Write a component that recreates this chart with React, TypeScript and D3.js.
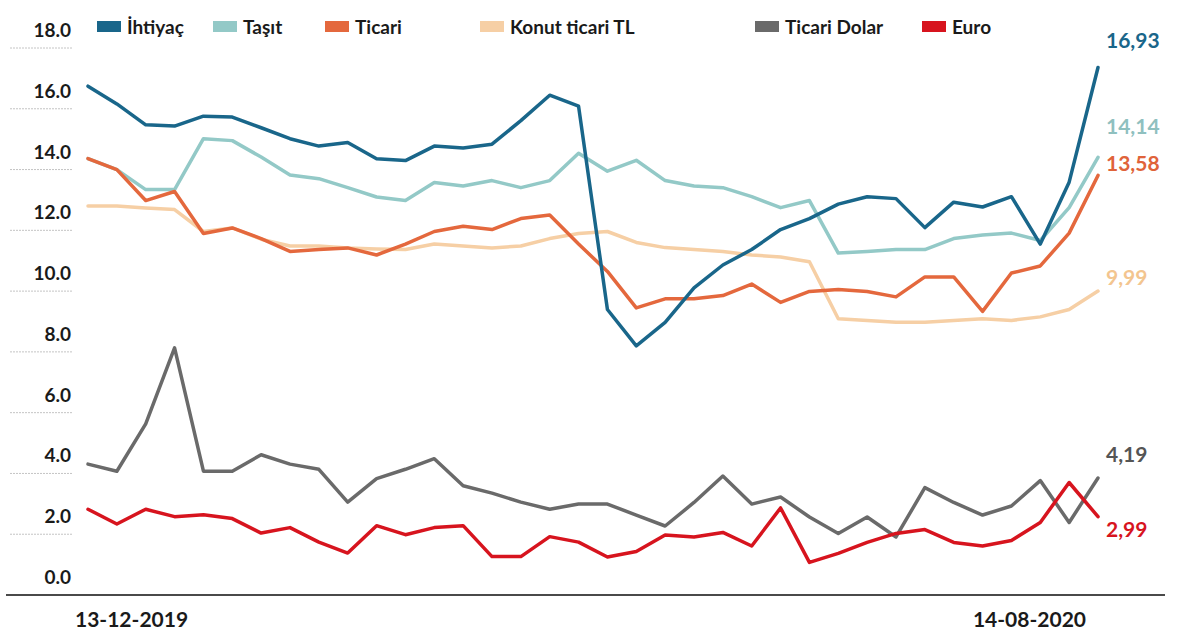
import React from "react";
import * as d3 from "d3";

const dates = [
  "13-12-2019", "20-12-2019", "27-12-2019", "03-01-2020", "10-01-2020", "17-01-2020",
  "24-01-2020", "31-01-2020", "07-02-2020", "14-02-2020", "21-02-2020", "28-02-2020",
  "06-03-2020", "13-03-2020", "20-03-2020", "27-03-2020", "03-04-2020", "10-04-2020",
  "17-04-2020", "24-04-2020", "01-05-2020", "08-05-2020", "15-05-2020", "22-05-2020",
  "29-05-2020", "05-06-2020", "12-06-2020", "19-06-2020", "26-06-2020", "03-07-2020",
  "10-07-2020", "17-07-2020", "24-07-2020", "31-07-2020", "07-08-2020", "14-08-2020",
];

const ihtiyac = [16.35, 15.8, 15.15, 15.11, 15.42, 15.39, 15.06, 14.72, 14.49, 14.6, 14.1, 14.04,
  14.49, 14.43, 14.55, 15.28, 16.07, 15.73, 9.42, 8.29, 9.02, 10.09, 10.8, 11.28,
  11.9, 12.24, 12.69, 12.92, 12.86, 11.96, 12.75, 12.6, 12.92, 11.45, 13.37, 16.93];
const tasit = [14.1, 13.76, 13.14, 13.14, 14.72, 14.66, 14.15, 13.59, 13.48, 13.2, 12.91, 12.8,
  13.36, 13.25, 13.42, 13.2, 13.42, 14.27, 13.71, 14.05, 13.42, 13.25, 13.2, 12.92,
  12.58, 12.8, 11.17, 11.22, 11.28, 11.28, 11.62, 11.73, 11.79, 11.56, 12.58, 14.14];
const ticari = [14.1, 13.76, 12.8, 13.08, 11.78, 11.95, 11.62, 11.22, 11.28, 11.33, 11.11, 11.45,
  11.84, 12.0, 11.9, 12.24, 12.35, 11.45, 10.6, 9.47, 9.75, 9.75, 9.85, 10.21,
  9.64, 9.98, 10.04, 9.98, 9.81, 10.43, 10.43, 9.36, 10.55, 10.77, 11.79, 13.58];
const konut = [12.63, 12.63, 12.57, 12.52, 11.84, 11.95, 11.6, 11.39, 11.39, 11.33, 11.3, 11.28,
  11.45, 11.39, 11.33, 11.39, 11.62, 11.78, 11.84, 11.5, 11.34, 11.28, 11.22, 11.11,
  11.05, 10.9, 9.13, 9.08, 9.02, 9.02, 9.08, 9.13, 9.08, 9.19, 9.42, 9.99];
const ticariDolar = [4.62, 4.4, 5.87, 8.23, 4.4, 4.4, 4.91, 4.62, 4.46, 3.44, 4.17, 4.46,
  4.79, 3.95, 3.72, 3.44, 3.22, 3.38, 3.38, 3.04, 2.7, 3.43, 4.25, 3.38,
  3.6, 2.98, 2.47, 2.98, 2.36, 3.89, 3.43, 3.04, 3.32, 4.11, 2.81, 4.19];
const euro = [3.22, 2.76, 3.22, 2.99, 3.05, 2.93, 2.48, 2.65, 2.2, 1.86, 2.71, 2.43,
  2.65, 2.71, 1.75, 1.75, 2.37, 2.2, 1.74, 1.91, 2.42, 2.36, 2.5, 2.08,
  3.26, 1.57, 1.85, 2.19, 2.47, 2.59, 2.19, 2.08, 2.25, 2.81, 4.05, 2.99];

const seriesNames = ["İhtiyaç", "Taşıt", "Ticari", "Konut ticari TL", "Ticari Dolar", "Euro"];
const yTicks = [0, 2, 4, 6, 8, 10, 12, 14, 16, 18];
const xTickLabels = ["13-12-2019", "14-08-2020"];

const colors = ["#19668a", "#93c9c7", "#e4683d", "#f6cfa5", "#6a6a6a", "#d7141e"];
const labelColors = ["#19668a", "#8fc0bf", "#e0633a", "#f3c58f", "#555555", "#d7141e"];
const endLabelDy = [-26, -30, -11, -13, -23, 13];
const legendX = [97, 213, 325, 480, 755, 922];

const W = 1188;
const H = 639;
const FONT = "Lato, 'Open Sans', sans-serif";

export default function App() {
  const series = [ihtiyac, tasit, ticari, konut, ticariDolar, euro];
  const x = d3.scalePoint<string>().domain(dates).range([88, 1098]);
  const y = d3.scaleLinear().domain([0, 18]).range([613, 33]);
  const yAxis = d3.scaleLinear().domain([0, 18]).range([595, 48]);
  const line = d3
    .line<number>()
    .x((_, i) => x(dates[i]) as number)
    .y((d) => y(d));
  const fmtTick = d3.format(".1f");
  const fmtEnd = d3.formatLocale({ decimal: ",", thousands: ".", grouping: [3], currency: ["", "₺"] }).format(".2f");

  return (
    <svg width={W} height={H} style={{ display: "block", position: "absolute", left: 0, top: 0, background: "#fff" }}>
      <rect x={0} y={0} width={W} height={H} fill="#fff" />
      {yTicks.map((t) => (
        <g key={t}>
          {t !== 0 && (
            <line x1={10} x2={72} y1={yAxis(t)} y2={yAxis(t)} stroke="#c4c4c4" strokeWidth={1} strokeDasharray="2,1" />
          )}
          <text x={71} y={yAxis(t) - 11} textAnchor="end" fontFamily={FONT} fontWeight={700} fontSize={19} fill="#1a1a1a">
            {fmtTick(t)}
          </text>
        </g>
      ))}
      <line x1={6} x2={1165} y1={yAxis(0)} y2={yAxis(0)} stroke="#4a4a4a" strokeWidth={2} />
      <text x={(x(xTickLabels[0]) as number) - 13} y={627} textAnchor="start" fontFamily={FONT} fontWeight={700} fontSize={21} fill="#1a1a1a">
        {xTickLabels[0]}
      </text>
      <text x={(x(xTickLabels[1]) as number) - 12} y={627} textAnchor="end" fontFamily={FONT} fontWeight={700} fontSize={21} fill="#1a1a1a">
        {xTickLabels[1]}
      </text>
      {[3, 1, 2, 4, 5, 0].map((k) => (
        <path key={k} d={line(series[k]) as string} fill="none" stroke={colors[k]} strokeWidth={3.5} strokeLinejoin="round" strokeLinecap="round" />
      ))}
      {series.map((s, k) => (
        <text key={k} x={1106} y={y(s[s.length - 1]) + endLabelDy[k] + 7} fontFamily={FONT} fontWeight={700} fontSize={21} fill={labelColors[k]}>
          {fmtEnd(s[s.length - 1])}
        </text>
      ))}
      {seriesNames.map((n, k) => (
        <g key={n}>
          <rect x={legendX[k]} y={21} width={24} height={11} fill={colors[k]} />
          <text x={legendX[k] + 30} y={34} fontFamily={FONT} fontWeight={700} fontSize={19} fill="#1a1a1a">
            {n}
          </text>
        </g>
      ))}
    </svg>
  );
}
